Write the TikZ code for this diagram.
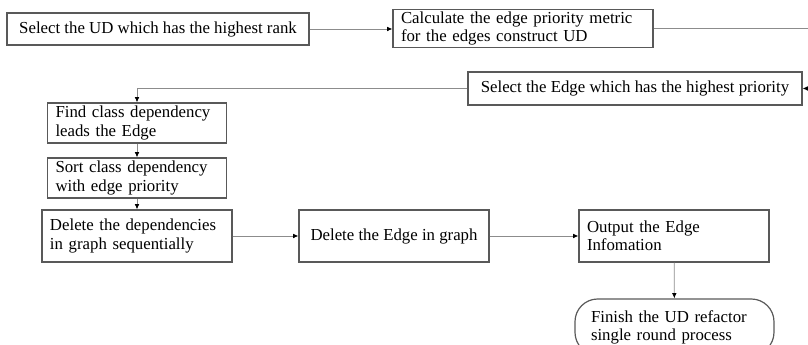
\documentclass[tikz,border=0pt]{standalone}
\usepackage{fontspec}
\setmainfont{Liberation Serif}
\usetikzlibrary{arrows.meta}

\begin{document}
\begin{tikzpicture}[
    x=0.75pt, y=-0.75pt,
    font=\fontsize{12.6}{13.6}\selectfont,
    box/.style={draw=black!65, line width=0.9pt, rectangle,
        inner xsep=6pt, inner ysep=2pt},
    textbox/.style={box, align=left, text width=#1},
    flow/.style={draw=black!45, line width=0.6pt,
        -{Latex[length=4pt, width=3.5pt, black]}}
]

% Marco de la figura (la imagen original está recortada)
\useasboundingbox (0,0) rectangle (808,345);
\clip (0,0) rectangle (808,345);

% 1. Fila superior
\node[box, minimum width=226.5pt, minimum height=24pt] (selud) at (158,29) {Select the UD which has the highest rank};
\node[textbox=183pt, minimum height=27.75pt] (calc) at (523,28.5) {Calculate the edge priority metric\\for the edges construct UD};

% 2. Selección de la arista
\node[box, minimum width=250.5pt, minimum height=24.75pt] (seledge) at (635,88.5) {Select the Edge which has the highest priority};

% 3. Columna izquierda
\node[textbox=122.25pt, minimum height=30pt] (find) at (137,123) {Find class dependency\\leads the Edge};
\node[textbox=122.25pt, minimum height=30pt] (sort) at (137,178) {Sort class dependency\\with edge priority};
\node[textbox=130.5pt, minimum height=39pt] (deldep) at (137,236) {Delete the dependencies\\in graph sequentially};

% 4. Fila inferior
\node[box, minimum width=142.5pt, minimum height=39pt] (deledge) at (394,236) {Delete the Edge in graph};
\node[textbox=130.5pt, minimum height=39pt] (output) at (674,236) {Output the Edge\\Infomation};
\node[textbox=125.25pt, inner xsep=12pt, minimum height=42pt, rounded corners=17pt] (finish) at (674.5,327) {Finish the UD refactor\\single round process};

% 5. Conexiones
\draw[flow] (selud.east) -- (calc.west |- selud.east);
\draw[flow] (calc.east) -- ++(170,0) |- (seledge.east);
\draw[flow] (seledge.west) -| (find.north);
\draw[flow] (find) -- (sort);
\draw[flow] (sort) -- (deldep);
\draw[flow] (deldep) -- (deledge);
\draw[flow] (deledge) -- (output);
\draw[flow] (output) -- (finish);

\end{tikzpicture}
\end{document}
